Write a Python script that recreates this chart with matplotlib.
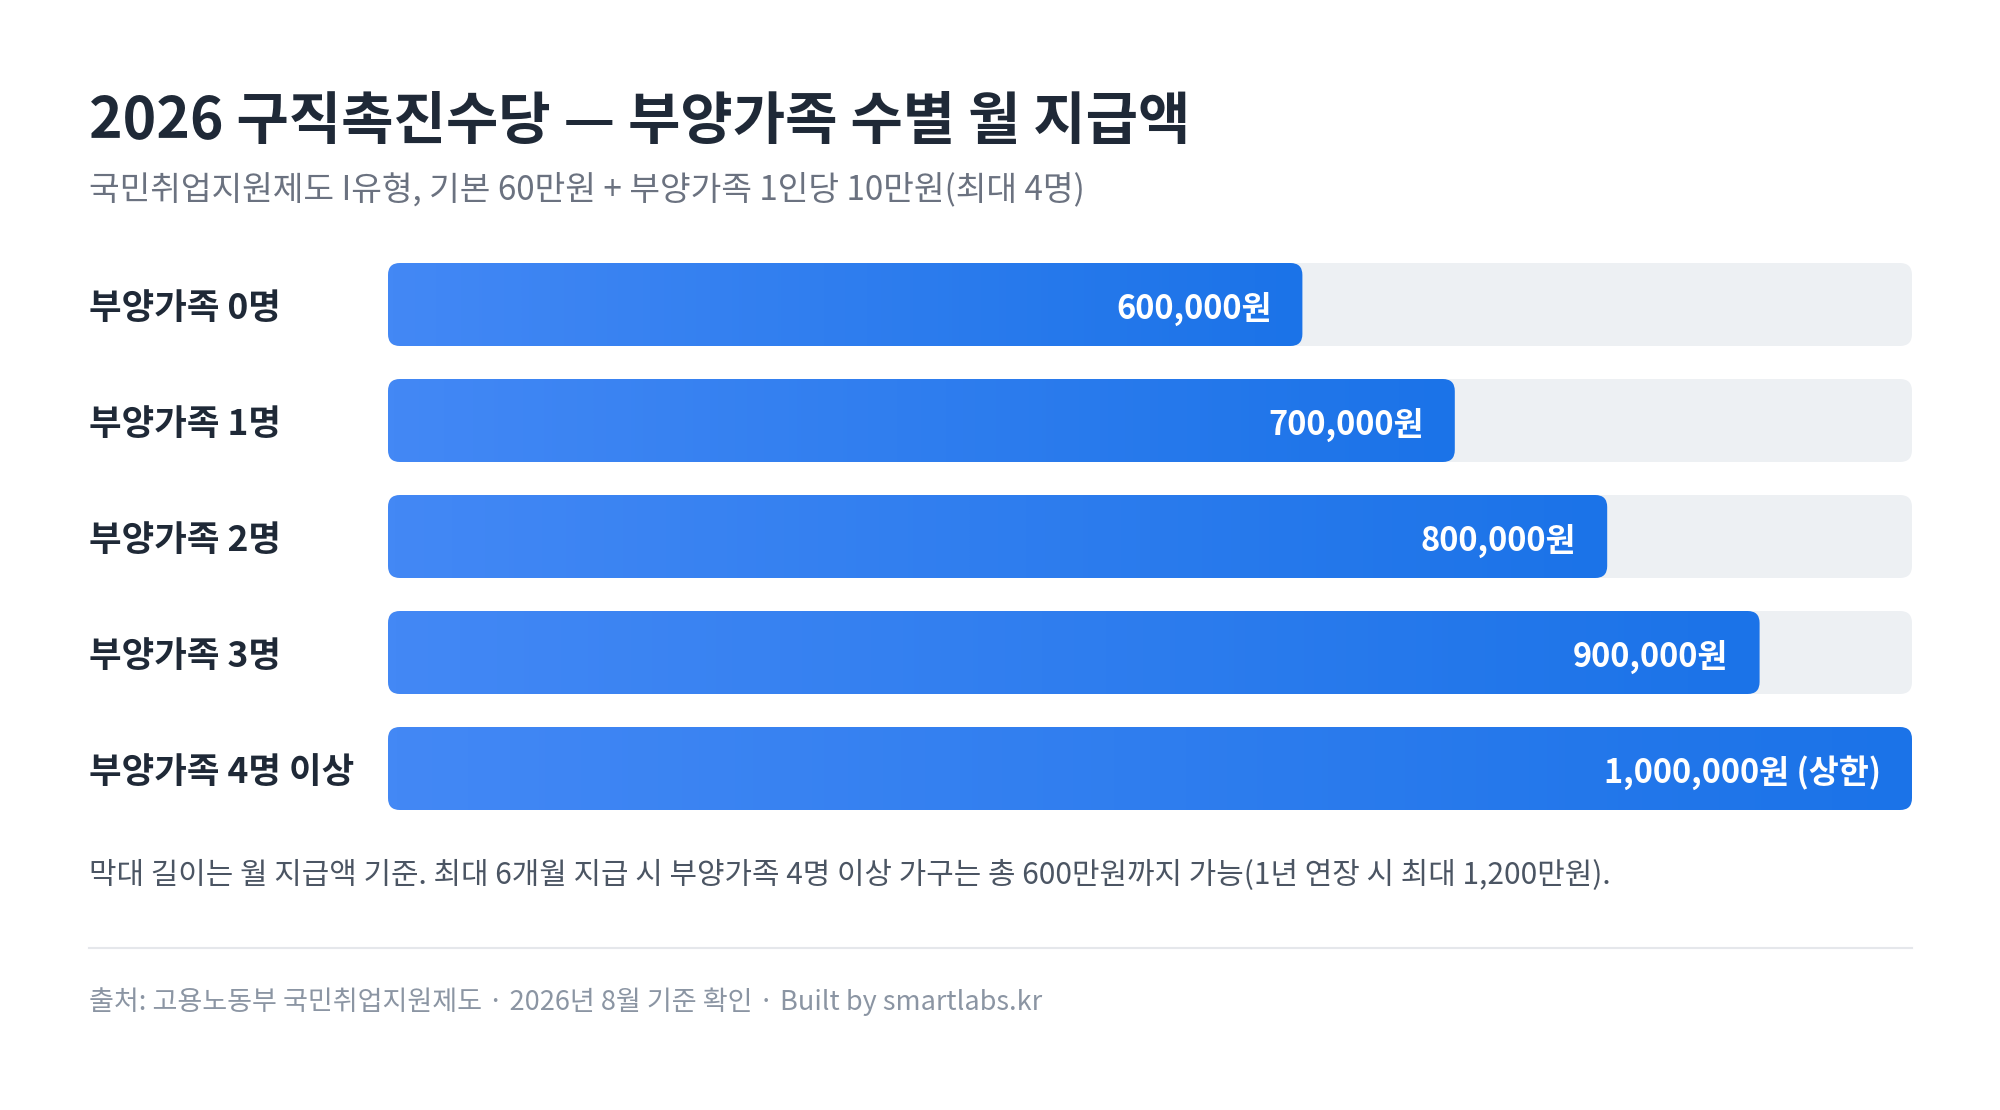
import numpy as np
import matplotlib.pyplot as plt
from matplotlib.patches import FancyBboxPatch
from matplotlib.colors import LinearSegmentedColormap
from matplotlib.transforms import blended_transform_factory

plt.rcParams['font.family'] = ['Noto Sans CJK KR', 'DejaVu Sans']

# Data
categories = ['부양가족 0명', '부양가족 1명', '부양가족 2명', '부양가족 3명', '부양가족 4명 이상']
amounts = [600000, 700000, 800000, 900000, 1000000]
value_labels = ['600,000원', '700,000원', '800,000원', '900,000원', '1,000,000원 (상한)']
x_max = 1000000

title = '2026 구직촉진수당 — 부양가족 수별 월 지급액'
subtitle = '국민취업지원제도 I유형, 기본 60만원 + 부양가족 1인당 10만원(최대 4명)'
note = '막대 길이는 월 지급액 기준. 최대 6개월 지급 시 부양가족 4명 이상 가구는 총 600만원까지 가능(1년 연장 시 최대 1,200만원).'
footer = '출처: 고용노동부 국민취업지원제도 · 2026년 8월 기준 확인 · Built by smartlabs.kr'

# Colours
dark = '#1f2937'
track_color = '#edf0f3'
grad = LinearSegmentedColormap.from_list('bar', ['#4388f5', '#1b73e8'])

W, H = 2000, 1110
fig = plt.figure(figsize=(W / 100, H / 100), dpi=100)
fig.patch.set_facecolor('white')

# bar area: track runs 388 px -> 1912 px, rows every 116 px
ax = fig.add_axes([388 / W, 1 - 826.5 / H, 1524 / W, 580 / H])
ax.set_xlim(0, x_max)
ax.set_ylim(len(categories) - 0.5, -0.5)
ax.axis('off')

bar_h = 83 / 116
x_per_px = x_max / 1524
y_per_px = 1 / 116
radius = 12 * x_per_px
aspect = y_per_px / x_per_px

for i, (cat, amt, lab) in enumerate(zip(categories, amounts, value_labels)):
    y0 = i - bar_h / 2
    track = FancyBboxPatch((0, y0), x_max, bar_h,
                           boxstyle=f'round,pad=0,rounding_size={radius}',
                           mutation_aspect=aspect, fc=track_color, ec='none', zorder=1)
    ax.add_patch(track)
    bar = FancyBboxPatch((0, y0), amt, bar_h,
                         boxstyle=f'round,pad=0,rounding_size={radius}',
                         mutation_aspect=aspect, fc='none', ec='none', zorder=2)
    ax.add_patch(bar)
    img = ax.imshow(np.linspace(0, 1, 256).reshape(1, -1), cmap=grad, aspect='auto',
                    extent=(0, amt, y0 + bar_h, y0), zorder=2, interpolation='bilinear')
    img.set_clip_path(bar)
    ax.annotate(lab, xy=(amt, i), xytext=(-31, -4), textcoords='offset pixels',
                ha='right', va='center', color='white', fontsize=23.5, fontweight='bold', zorder=3)

ax.set_xlim(0, x_max)
ax.set_ylim(len(categories) - 0.5, -0.5)

# category labels at the left margin
trans = blended_transform_factory(fig.transFigure, ax.transData)
for i, cat in enumerate(categories):
    ax.text(89 / W, i + 4 / 116, cat, transform=trans, ha='left', va='center',
            fontsize=25.5, fontweight='bold', color=dark)

# titles and notes
fig.text(89 / W, 1 - 122 / H, title, ha='left', va='center', fontsize=41,
         fontweight='bold', color=dark)
fig.text(89 / W, 1 - 190 / H, subtitle, ha='left', va='center', fontsize=24,
         color='#6b7280')
fig.text(89 / W, 1 - 875 / H, note, ha='left', va='center', fontsize=21.5,
         color='#4b5563')
fig.add_artist(plt.Line2D([89 / W, 1912 / W], [1 - 948 / H, 1 - 948 / H],
                          transform=fig.transFigure, color='#e5e7eb', lw=1.5))
fig.text(89 / W, 1 - 1002 / H, footer, ha='left', va='center', fontsize=19.5,
         color='#8b95a3')

fig.savefig('out.png', dpi=100, facecolor='white')
